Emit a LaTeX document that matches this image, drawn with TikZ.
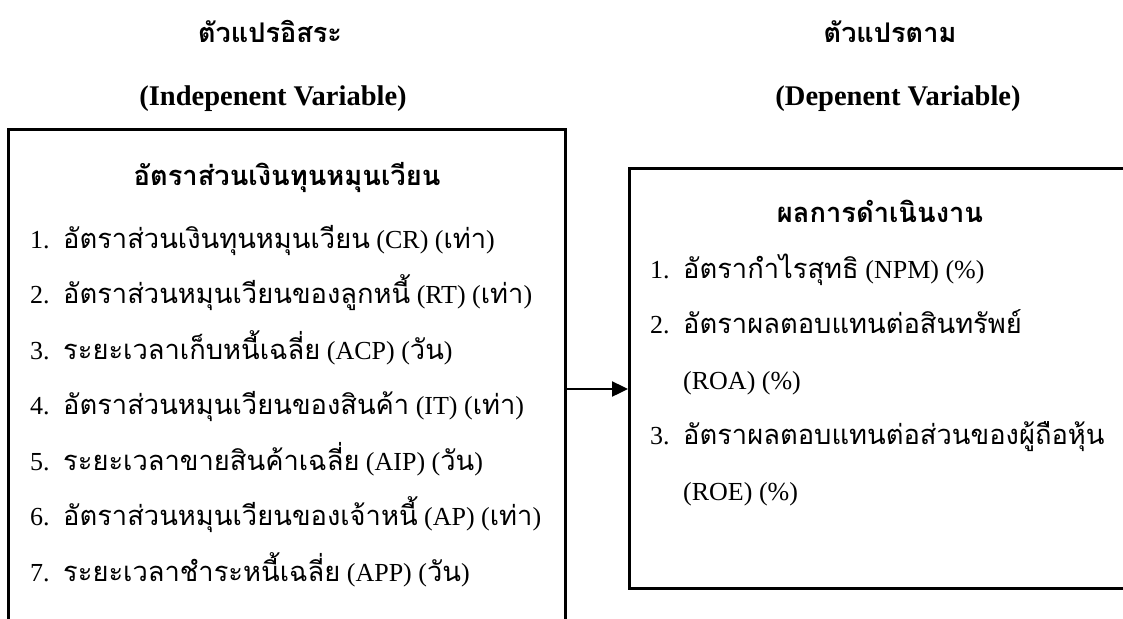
\documentclass[tikz,border=0pt]{standalone}
\usepackage{fontspec}
\setmainfont{Liberation Serif}
\newfontfamily\thaifont[Script=Thai, Scale=1.05]{Loma}
\newcommand{\tx}[1]{{\thaifont #1}}
\usetikzlibrary{arrows.meta}
\tikzset{
  hd/.style={inner sep=0pt, anchor=base, font=\fontsize{25.8}{31}\selectfont\bfseries},
  hde/.style={inner sep=0pt, anchor=base, font=\fontsize{28.5}{33}\selectfont\bfseries},
  ttl/.style={inner sep=0pt, anchor=base, font=\fontsize{26}{31}\selectfont\bfseries},
  itm/.style={inner sep=0pt, anchor=base west, font=\fontsize{26}{31}\selectfont},
  boxst/.style={draw, line width=2.6pt, inner sep=0pt, anchor=north west},
  arr/.style={line width=2.4pt, -{Triangle[length=16pt,width=15pt]}}
}
\newcommand{\num}[1]{\makebox[33pt][l]{#1}}
\begin{document}
\begin{tikzpicture}[x=1pt,y=-1pt]
\useasboundingbox (0,0) rectangle (1123,618);
\clip (0,0) rectangle (1123,618);
% headings
\node[hd] (hL) at (270,42) {\tx{ตัวแปรอิสระ}};
\node[hde] (hLe) at (273,105) {(Indepenent Variable)};
\node[hd] (hR) at (890,42) {\tx{ตัวแปรตาม}};
\node[hde] (hRe) at (898,105) {(Depenent Variable)};
% boxes
\node[boxst, minimum width=557pt, minimum height=530pt] (lbox) at (7,128) {};
\node[boxst, minimum width=540pt, minimum height=420pt] (rbox) at (628,167) {};
% left box content
\node[ttl] (lt) at (287,185) {\tx{อัตราส่วนเงินทุนหมุนเวียน}};
\node[itm] (l1) at (30,248) {\num{1.}\tx{อัตราส่วนเงินทุนหมุนเวียน} (CR) (\tx{เท่า})};
\node[itm] (l2) at (30,303.5) {\num{2.}\tx{อัตราส่วนหมุนเวียนของลูกหนี้} (RT) (\tx{เท่า})};
\node[itm] (l3) at (30,359) {\num{3.}\tx{ระยะเวลาเก็บหนี้เฉลี่ย} (ACP) (\tx{วัน})};
\node[itm] (l4) at (30,414.5) {\num{4.}\tx{อัตราส่วนหมุนเวียนของสินค้า} (IT) (\tx{เท่า})};
\node[itm] (l5) at (30,470) {\num{5.}\tx{ระยะเวลาขายสินค้าเฉลี่ย} (AIP) (\tx{วัน})};
\node[itm] (l6) at (30,525.5) {\num{6.}\tx{อัตราส่วนหมุนเวียนของเจ้าหนี้} (AP) (\tx{เท่า})};
\node[itm] (l7) at (30,581) {\num{7.}\tx{ระยะเวลาชำระหนี้เฉลี่ย} (APP) (\tx{วัน})};
% right box content
\node[ttl] (rt) at (880,222) {\tx{ผลการดำเนินงาน}};
\node[itm] (r1) at (650,278) {\num{1.}\tx{อัตรากำไรสุทธิ} (NPM) (\%)};
\node[itm] (r2) at (650,333.5) {\num{2.}\tx{อัตราผลตอบแทนต่อสินทรัพย์}};
\node[itm] (r2b) at (683,389) {(ROA) (\%)};
\node[itm] (r3) at (650,444.5) {\num{3.}\tx{อัตราผลตอบแทนต่อส่วนของผู้ถือหุ้น}};
\node[itm] (r3b) at (683,500) {(ROE) (\%)};
% arrow
\draw[arr] (lbox.east |- 0,389) -- (rbox.west |- 0,389);
\end{tikzpicture}
\end{document}
